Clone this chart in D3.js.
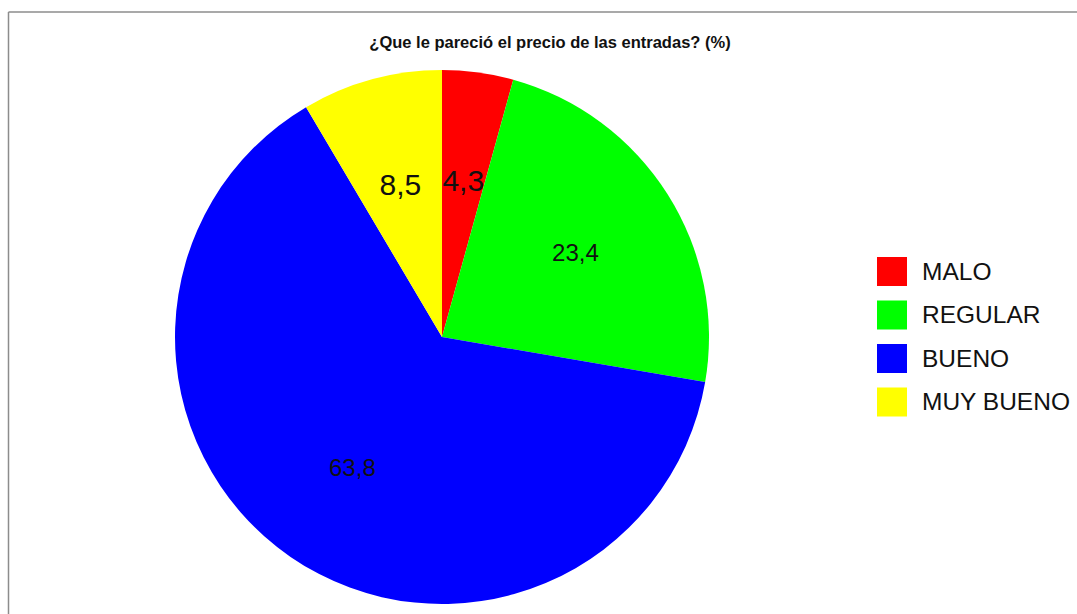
<!DOCTYPE html>
<html>
<head>
<meta charset="utf-8">
<script src="https://cdn.jsdelivr.net/npm/d3@7"></script>
<style>
  html, body { margin: 0; padding: 0; background: #fff; }
  svg { display: block; }
</style>
</head>
<body>
<svg id="chart" width="1077" height="614"></svg>
<script>
// Survey answers: how the ticket price was rated (%)
const categories = ["MALO", "REGULAR", "BUENO", "MUY BUENO"];
const values = [4.3, 23.4, 63.8, 8.5];
const colors = ["#ff0000", "#00ff00", "#0000ff", "#ffff00"];
const title = "¿Que le pareció el precio de las entradas? (%)";

const svg = d3.select("#chart");
const W = 1077, H = 614;
const font = "'Liberation Sans', Arial, sans-serif";

// frame lines along the top and left
svg.append("line").attr("x1", 8.5).attr("y1", 12).attr("x2", W).attr("y2", 12)
  .attr("stroke", "#8c8c8c").attr("stroke-width", 1.5);
svg.append("line").attr("x1", 8.5).attr("y1", 12).attr("x2", 8.5).attr("y2", H)
  .attr("stroke", "#8c8c8c").attr("stroke-width", 1.5);

// title
svg.append("text")
  .attr("x", 550).attr("y", 48)
  .attr("text-anchor", "middle")
  .attr("font-family", font).attr("font-weight", "bold").attr("font-size", 16.5)
  .attr("fill", "#111")
  .text(title);

const cx = 442, cy = 337, R = 267;
const color = d3.scaleOrdinal().domain(categories).range(colors);

const pie = d3.pie().sort(null).value(d => d.value);
const data = pie(categories.map((c, i) => ({ cat: c, value: values[i] })));

const arc = d3.arc().innerRadius(0).outerRadius(R);
const labelArc = d3.arc().innerRadius(158).outerRadius(158);

const g = svg.append("g").attr("transform", `translate(${cx},${cy})`);

g.selectAll("path.slice")
  .data(data)
  .join("path")
  .attr("class", "slice")
  .attr("d", arc)
  .attr("fill", d => color(d.data.cat));

// value labels; the narrow slices carry a larger figure
const fmt = v => d3.format(".1f")(v).replace(".", ",");
g.selectAll("text.val")
  .data(data)
  .join("text")
  .attr("class", "val")
  .attr("transform", d => `translate(${labelArc.centroid(d)})`)
  .attr("text-anchor", "middle")
  .attr("dy", "0.36em")
  .attr("font-family", font)
  .attr("font-size", d => d.data.value < 10 ? 30 : 24)
  .attr("fill", "#111")
  .text(d => fmt(d.data.value));

// legend
const legend = svg.append("g").attr("transform", "translate(877,257)");
const row = legend.selectAll("g")
  .data(categories)
  .join("g")
  .attr("transform", (d, i) => `translate(0,${i * 43.5})`);
row.append("rect")
  .attr("width", 30).attr("height", 29)
  .attr("fill", d => color(d));
row.append("text")
  .attr("x", 45).attr("y", 22.5)
  .attr("font-family", font).attr("font-size", 24.5)
  .attr("fill", "#111")
  .text(d => d);
</script>
</body>
</html>
